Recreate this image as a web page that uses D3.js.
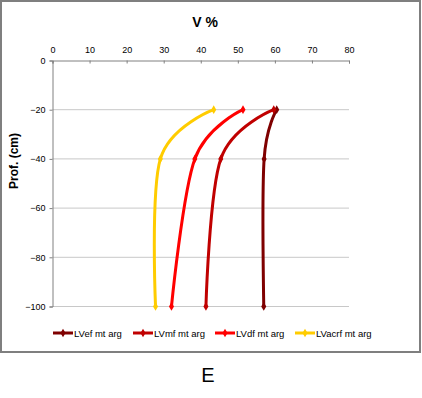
<!DOCTYPE html>
<html>
<head>
<meta charset="utf-8">
<script src="https://cdn.jsdelivr.net/npm/d3@7"></script>
<style>
  body { margin: 0; background: #fff; }
  svg { display: block; font-family: 'Liberation Sans', Arial, sans-serif; }
</style>
</head>
<body>
<svg id="chart" width="422" height="398"></svg>
<script>
// data
let depths = [-20, -40, -100]
let seriesNames = ['LVef mt arg', 'LVmf mt arg', 'LVdf mt arg', 'LVacrf mt arg']
let LVef = [60.5, 57.1, 57.0]
let LVmf = [59.7, 45.4, 41.4]
let LVdf = [51.4, 38.4, 32.1]
let LVacrf = [43.5, 29.1, 27.8]
let xTicks = [0, 10, 20, 30, 40, 50, 60, 70, 80]
let yTicks = [0, -20, -40, -60, -80, -100]
let colors = ['#7f0000', '#c00000', '#ff0000', '#ffcc00']

let series = [LVef, LVmf, LVdf, LVacrf].map((vals, i) => ({
  name: seriesNames[i],
  color: colors[i],
  points: vals.map((v, j) => ({ v: v, d: depths[j] })),
}))

let svg = d3.select('#chart')

// chart border
svg.append('rect')
  .attr('x', 1).attr('y', 1)
  .attr('width', 419).attr('height', 351)
  .attr('fill', '#fff')
  .attr('stroke', '#7f7f7f')
  .attr('stroke-width', 2)

let x = d3.scaleLinear().domain([0, 80]).range([52.5, 349])
let y = d3.scaleLinear().domain([0, -100]).range([60.5, 306.5])

// gridlines
svg.append('g')
  .selectAll('line')
  .data(yTicks.slice(1))
  .join('line')
  .attr('x1', x(0)).attr('x2', x(80))
  .attr('y1', d => y(d)).attr('y2', d => y(d))
  .attr('stroke', '#c8c8c8')
  .attr('stroke-width', 1)

// top axis
let xAxis = svg.append('g')
  .attr('transform', `translate(0,${y(0)})`)
  .call(d3.axisTop(x).tickValues(xTicks).tickSize(-3).tickPadding(8))
xAxis.select('.domain').attr('stroke', '#808080')
xAxis.selectAll('.tick line').attr('stroke', '#808080')
xAxis.selectAll('text').attr('font-size', 9).attr('fill', '#000')
  .attr('font-family', "'Liberation Sans', Arial, sans-serif")

// left axis
let yAxis = svg.append('g')
  .attr('transform', `translate(${x(0)},0)`)
  .call(d3.axisLeft(y).tickValues(yTicks).tickSize(3).tickPadding(4).tickFormat(d3.format('d')))
yAxis.select('.domain').attr('stroke', '#808080')
yAxis.selectAll('.tick line').attr('stroke', '#808080')
yAxis.selectAll('text').attr('font-size', 9).attr('fill', '#000')
  .attr('font-family', "'Liberation Sans', Arial, sans-serif")

// titles
svg.append('text')
  .attr('x', 205).attr('y', 27)
  .attr('text-anchor', 'middle')
  .attr('font-size', 14).attr('font-weight', 'bold')
  .text('V %')

svg.append('text')
  .attr('transform', 'translate(18,161) rotate(-90)')
  .attr('text-anchor', 'middle')
  .attr('font-size', 12).attr('font-weight', 'bold')
  .text('Prof. (cm)')

// lines
let line = d3.line()
  .x(p => x(p.v))
  .y(p => y(p.d))
  .curve(d3.curveCatmullRom.alpha(0))

let diamond = d3.symbol().type(d3.symbolDiamond).size(22)

let g = svg.append('g')
series.forEach(s => {
  g.append('path')
    .attr('d', line(s.points))
    .attr('fill', 'none')
    .attr('stroke', s.color)
    .attr('stroke-width', 3)
  g.selectAll(null)
    .data(s.points)
    .join('path')
    .attr('d', diamond)
    .attr('transform', p => `translate(${x(p.v)},${y(p.d)})`)
    .attr('fill', s.color)
})

// legend
let legendX = [53, 133, 215, 295]
let legend = svg.append('g')
  .selectAll('g')
  .data(series)
  .join('g')
  .attr('transform', (d, i) => `translate(${legendX[i]},333)`)
legend.append('line')
  .attr('x1', 0).attr('x2', 20)
  .attr('stroke', d => d.color)
  .attr('stroke-width', 3)
legend.append('path')
  .attr('d', diamond)
  .attr('transform', 'translate(10,0)')
  .attr('fill', d => d.color)
legend.append('text')
  .attr('x', 21).attr('y', 3.5)
  .attr('font-size', 9.5)
  .text(d => d.name)

// panel letter
svg.append('text')
  .attr('x', 208).attr('y', 382)
  .attr('text-anchor', 'middle')
  .attr('font-size', 20)
  .text('E')
</script>
</body>
</html>
